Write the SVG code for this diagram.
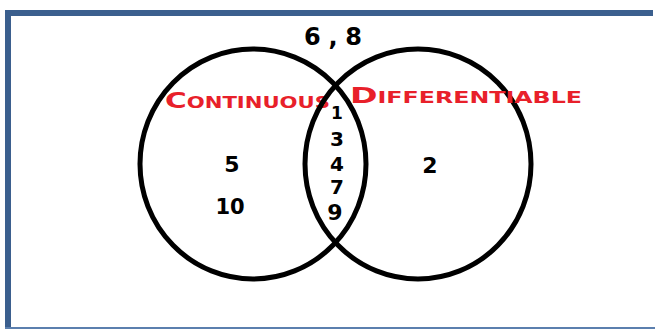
<svg xmlns="http://www.w3.org/2000/svg" width="655" height="329" viewBox="0 0 655 329">
<style>
.ring{fill:none;stroke:#000;stroke-width:5;}
.num{font-family:"DejaVu Sans",sans-serif;font-weight:bold;fill:#000;text-anchor:middle;}
.lab{font-family:"DejaVu Sans",sans-serif;font-weight:bold;fill:#e8202a;}
</style>
<rect x="0" y="0" width="655" height="329" fill="#fff"/>
<g id="frame">
<rect x="5" y="10" width="6" height="319" fill="#3b5f8e"/>
<rect x="5" y="10" width="648" height="6" fill="#3b5f8e"/>
<rect x="5" y="327" width="650" height="2" fill="#5b7fae"/>
</g>
<g id="continuous">
<ellipse class="ring" cx="253" cy="164" rx="113" ry="115"/>
<text class="lab" x="165" y="108" font-size="15" textLength="165" lengthAdjust="spacingAndGlyphs"><tspan font-size="21">C</tspan>ONTINUOUS</text>
<text class="num" x="232" y="172" font-size="22">5</text>
<text class="num" x="230" y="214" font-size="21">10</text>
</g>
<g id="differentiable">
<ellipse class="ring" cx="418" cy="164" rx="113" ry="115"/>
<text class="lab" x="350" y="103" font-size="15" textLength="232" lengthAdjust="spacingAndGlyphs"><tspan font-size="21">D</tspan>IFFERENTIABLE</text>
<text class="num" x="430" y="173" font-size="22">2</text>
</g>
<g id="both">
<text class="num" x="337" y="119" font-size="17">1</text>
<text class="num" x="337" y="146" font-size="20">3</text>
<text class="num" x="337" y="171" font-size="20">4</text>
<text class="num" x="337" y="194" font-size="20">7</text>
<text class="num" x="335" y="220" font-size="22">9</text>
</g>
<g id="outside">
<text class="num" x="304" y="45" font-size="24" style="text-anchor:start" textLength="58" lengthAdjust="spacing">6,8</text>
</g>
</svg>
